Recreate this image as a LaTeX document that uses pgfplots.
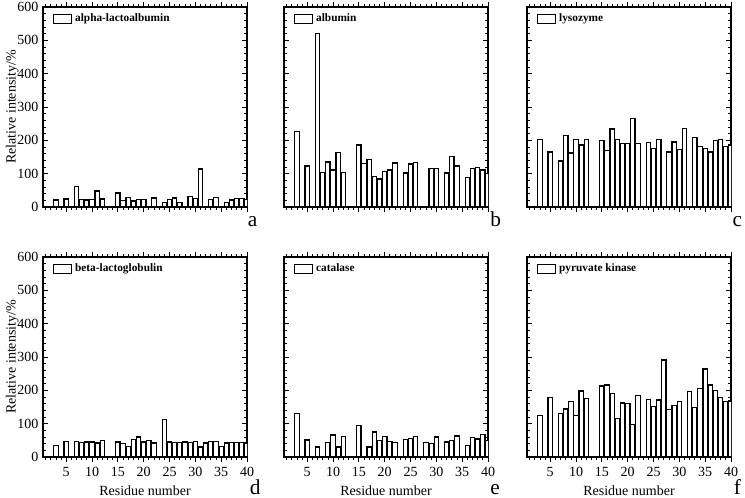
\documentclass[border=0pt]{standalone}
\usepackage{fontspec}
\setmainfont{Liberation Serif}
\usepackage{pgfplots}
\pgfplotsset{compat=1.18}

\pgfplotsset{
  panel/.style={
    scale only axis, width=153pt, height=150pt,
    xmin=0.5, xmax=40, ymin=0, ymax=600,
    xtick={5,10,...,40}, minor xtick={1,...,40},
    ytick={0,100,...,600}, minor ytick={0,20,...,600},
    tick align=inside,
    major tick length=4pt, minor tick length=2pt,
    axis line style={line width=0.9pt},
    every tick/.append style={black, line width=0.7pt},
    every minor tick/.append style={black, line width=0.6pt},
    ybar, bar width=0.85,
    /pgf/number format/assume math mode=true,
    tick label style={font=\fontsize{10.5}{12}\selectfont},
    label style={font=\fontsize{10.5}{12}\selectfont},
    ylabel style={at={(axis description cs:0,0.5)}, anchor=center, yshift=23pt},
    legend style={at={(rel axis cs:0,1)}, anchor=north west, draw=none, fill=none,
      xshift=7.5pt, yshift=-3pt, inner sep=0pt,
      font=\fontsize{8.5}{10}\selectfont\bfseries, nodes={inner sep=2pt}},
    legend cell align=left,
    legend image code/.code={\draw[line width=0.9pt,black,fill=white] (0pt,-3.4pt) rectangle (13.5pt,3.4pt);},
  },
  bars/.style={draw=black, fill=white, line width=0.9pt},
}

\begin{document}
\begin{tikzpicture}
\useasboundingbox (0,0) rectangle (558.75pt,373.5pt);

% a
\begin{axis}[panel, name=pa, at={(32.25pt,218.25pt)}, anchor=south west,
  xticklabels={}, ylabel={Relative intensity/\%}]
\addplot[bars] coordinates {(3,21)(5,24)(7,62)(8,23)(9,21)(10,23)(11,48)(12,24)(15,42)(16,20)(17,28)(18,18)(19,23)(20,23)(22,27)(24,13)(25,22)(26,27)(27,13)(29,32)(30,25)(31,114)(33,23)(34,28)(36,14)(37,21)(38,26)(39,25)(40,23)};
\addlegendentry{alpha-lactoalbumin}
\end{axis}

% b
\begin{axis}[panel, name=pb, at={(213pt,218.25pt)}, anchor=south west,
  xticklabels={}, yticklabels={}]
\addplot[bars] coordinates {(3,226)(5,123)(7,520)(8,104)(9,135)(10,111)(11,163)(12,104)(15,186)(16,131)(17,143)(18,92)(19,84)(20,106)(21,111)(22,132)(24,102)(25,129)(26,133)(29,115)(30,115)(32,102)(33,151)(34,123)(36,88)(37,115)(38,119)(39,111)(40,100)};
\addlegendentry{albumin}
\end{axis}

% c
\begin{axis}[panel, name=pc, at={(395.25pt,218.25pt)}, anchor=south west,
  xticklabels={}, yticklabels={}]
\addplot[bars] coordinates {(3,203)(5,165)(7,138)(8,214)(9,162)(10,202)(11,186)(12,203)(15,199)(16,169)(17,234)(18,203)(19,190)(20,191)(21,265)(22,190)(24,193)(25,176)(26,202)(28,165)(29,195)(30,172)(31,235)(33,209)(34,182)(35,175)(36,165)(37,200)(38,202)(39,182)(40,186)};
\addlegendentry{lysozyme}
\end{axis}

% d
\begin{axis}[panel, name=pd, at={(32.25pt,30.75pt)}, anchor=south west,
  xlabel={Residue number}, ylabel={Relative intensity/\%}]
\addplot[bars] coordinates {(3,35)(5,46)(7,46)(8,43)(9,45)(10,45)(11,42)(12,50)(15,45)(16,41)(17,32)(18,52)(19,60)(20,45)(21,50)(22,42)(24,113)(25,45)(26,44)(27,44)(28,45)(29,43)(30,47)(31,30)(32,42)(33,46)(34,46)(35,32)(36,42)(37,44)(38,44)(39,44)(40,42)};
\addlegendentry{beta-lactoglobulin}
\end{axis}

% e
\begin{axis}[panel, name=pe, at={(213pt,30.75pt)}, anchor=south west,
  xlabel={Residue number}, yticklabels={}]
\addplot[bars] coordinates {(3,130)(5,51)(7,30)(9,44)(10,66)(11,30)(12,61)(15,94)(17,30)(18,75)(19,50)(20,61)(21,47)(22,43)(24,53)(25,55)(26,61)(28,43)(29,41)(30,60)(32,45)(33,49)(34,63)(36,35)(37,58)(38,54)(39,68)(40,50)};
\addlegendentry{catalase}
\end{axis}

% f
\begin{axis}[panel, name=pf, at={(395.25pt,30.75pt)}, anchor=south west,
  xlabel={Residue number}, yticklabels={}]
\addplot[bars] coordinates {(3,124)(5,178)(7,131)(8,144)(9,166)(10,124)(11,198)(12,175)(15,213)(16,216)(17,190)(18,116)(19,162)(20,160)(21,97)(22,184)(24,172)(25,152)(26,171)(27,291)(28,143)(29,155)(30,166)(32,196)(33,148)(34,205)(35,264)(36,216)(37,200)(38,178)(39,167)(40,168)};
\addlegendentry{pyruvate kinase}
\end{axis}

\begin{scope}[every node/.style={anchor=base west, inner sep=0pt, font=\fontsize{16}{16}\selectfont}]
\node at ([xshift=0.5pt,yshift=-15pt]pa.south east) {a};
\node at ([xshift=1.5pt,yshift=-15pt]pb.south east) {b};
\node at ([xshift=1pt,yshift=-15pt]pc.south east) {c};
\node at ([xshift=2pt,yshift=-28pt]pd.south east) {d};
\node at ([xshift=1.5pt,yshift=-28pt]pe.south east) {e};
\node at ([xshift=2pt,yshift=-28pt]pf.south east) {f};
\end{scope}
\end{tikzpicture}
\end{document}
